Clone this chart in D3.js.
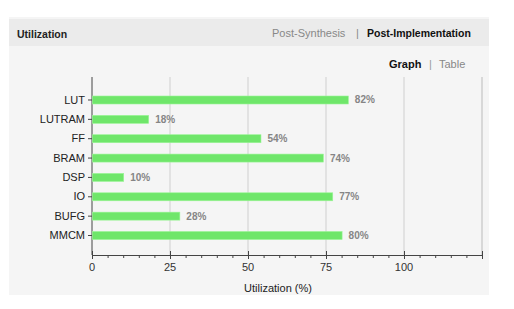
<!DOCTYPE html>
<html>
<head>
<meta charset="utf-8">
<script src="https://cdn.jsdelivr.net/npm/d3@7"></script>
<style>
  body { margin: 0; background: #fff; }
  svg { display: block; font-family: "Liberation Sans", Arial, sans-serif; }
</style>
</head>
<body>
<script>
const categories = ["LUT", "LUTRAM", "FF", "BRAM", "DSP", "IO", "BUFG", "MMCM"];
const utilization = [82, 18, 54, 74, 10, 77, 28, 80];
const majorTicks = [0, 25, 50, 75, 100];
const gridTicks = [25, 50, 75, 100];

const W = 514, H = 309;
const svg = d3.select("body").append("svg")
    .attr("width", W)
    .attr("height", H);

// panel
svg.append("rect")
    .attr("x", 9).attr("y", 17)
    .attr("width", 480).attr("height", 278)
    .attr("fill", "#f5f5f5");
svg.append("rect")
    .attr("x", 9).attr("y", 19)
    .attr("width", 480).attr("height", 27)
    .attr("fill", "#ebebeb");

svg.append("text")
    .attr("x", 17).attr("y", 38)
    .attr("font-size", 10.5).attr("font-weight", "bold")
    .attr("fill", "#222")
    .text("Utilization");
svg.append("text")
    .attr("x", 272).attr("y", 37)
    .attr("font-size", 11).attr("fill", "#888")
    .text("Post-Synthesis");
svg.append("text")
    .attr("x", 356).attr("y", 37)
    .attr("font-size", 11).attr("fill", "#888")
    .text("|");
svg.append("text")
    .attr("x", 367).attr("y", 37)
    .attr("font-size", 10.5).attr("font-weight", "bold")
    .attr("fill", "#111")
    .text("Post-Implementation");

svg.append("text")
    .attr("x", 389).attr("y", 68)
    .attr("font-size", 11).attr("font-weight", "bold")
    .attr("fill", "#111")
    .text("Graph");
svg.append("text")
    .attr("x", 429).attr("y", 68)
    .attr("font-size", 11).attr("fill", "#999")
    .text("|");
svg.append("text")
    .attr("x", 439).attr("y", 68)
    .attr("font-size", 11).attr("fill", "#888")
    .text("Table");

// plot
const plotTop = 77, axisY = 255;
const x = d3.scaleLinear().domain([0, 125]).range([92, 482]);
const y = d3.scaleBand().domain(categories).range([96, 239.5]).paddingInner(0.587).paddingOuter(0);

const g = svg.append("g");

g.selectAll(".grid")
    .data(gridTicks.concat([125]))
    .enter().append("line")
    .attr("x1", d => x(d)).attr("x2", d => x(d))
    .attr("y1", plotTop).attr("y2", axisY)
    .attr("stroke", d => d === 125 ? "#bbb" : "#cfcfcf")
    .attr("stroke-width", 1);

// x axis
const xAxis = g.append("g")
    .attr("transform", `translate(0,${axisY})`)
    .call(d3.axisBottom(x).tickValues(d3.range(0, 126, 5)).tickSize(3).tickFormat(""));
xAxis.select(".domain").attr("stroke", "#444");
xAxis.selectAll(".tick line").attr("stroke", "#444");
xAxis.selectAll(".tick")
    .filter(d => majorTicks.includes(d) || d === 125)
    .select("line").attr("y1", -4).attr("y2", 4);

g.selectAll(".xlab")
    .data(majorTicks)
    .enter().append("text")
    .attr("x", d => x(d)).attr("y", 271)
    .attr("text-anchor", "middle")
    .attr("font-size", 11).attr("fill", "#333")
    .text(d => d);

svg.append("text")
    .attr("x", 278).attr("y", 292)
    .attr("text-anchor", "middle")
    .attr("font-size", 11).attr("fill", "#222")
    .text("Utilization (%)");

// y axis
const yAxis = g.append("g")
    .attr("transform", `translate(92,0)`)
    .call(d3.axisLeft(y).tickSize(4).tickPadding(3));
yAxis.select(".domain").attr("d", `M0,${plotTop}V${axisY}`).attr("stroke", "#444");
yAxis.selectAll(".tick line").attr("stroke", "#444");
yAxis.selectAll(".tick text")
    .attr("font-size", 11).attr("fill", "#222")
    .attr("font-family", "Liberation Sans, Arial, sans-serif");

// bars
g.selectAll(".bar")
    .data(categories)
    .enter().append("rect")
    .attr("x", x(0) + 0.5)
    .attr("y", d => y(d))
    .attr("width", (d, i) => x(utilization[i]) - x(0))
    .attr("height", y.bandwidth())
    .attr("fill", "#6fe66a")
    .attr("stroke", "#9af596")
    .attr("stroke-width", 0.6);

g.selectAll(".val")
    .data(categories)
    .enter().append("text")
    .attr("x", (d, i) => x(utilization[i]) + 7)
    .attr("y", d => y(d) + y.bandwidth() / 2 + 3.5)
    .attr("font-size", 10).attr("font-weight", "bold")
    .attr("fill", "#858585")
    .text((d, i) => utilization[i] + "%");
</script>
</body>
</html>
